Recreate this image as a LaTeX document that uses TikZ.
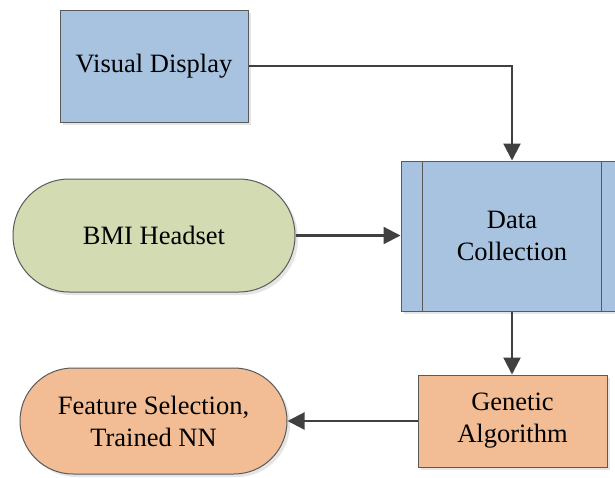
\documentclass[tikz,border=0pt]{standalone}
\usepackage{fontspec}
\setmainfont{Liberation Serif}
\usetikzlibrary{arrows.meta,calc,shadows}
\definecolor{boxblue}{HTML}{A7C3DF}
\definecolor{boxgreen}{HTML}{D3DBB3}
\definecolor{boxorange}{HTML}{F2BD95}
\definecolor{edgegray}{HTML}{5A5A5A}
\definecolor{arrowgray}{HTML}{404040}
\tikzset{
  block/.style={draw=edgegray, line width=1pt, align=center, font=\fontsize{26.5}{32}\selectfont,
    inner sep=0pt, drop shadow={shadow xshift=3pt, shadow yshift=-3pt, fill=black!10, opacity=1}},
  procbox/.style={block, rectangle},
  terminal/.style={block, rectangle, rounded corners=#1},
  flow/.style={draw=arrowgray, line width=2.2pt, -{Triangle[length=17pt,width=17pt]}}
}
\begin{document}
\begin{tikzpicture}[x=1pt,y=-1pt]
\useasboundingbox (0,0) rectangle (615,477);
\clip (0,0) rectangle (615,477);
\fill[white] (0,0) rectangle (615,477);

% process blocks
\node[procbox, fill=boxblue, minimum width=188pt, minimum height=112pt] (vd) at (154,66) {Visual Display};
\node[procbox, fill=boxblue, minimum width=222pt, minimum height=150pt] (dc) at (512,236) {Data\\Collection};
\draw[edgegray, line width=1pt] ($(dc.north west)+(22,0)$) -- ($(dc.south west)+(22,0)$);
\draw[edgegray, line width=1pt] ($(dc.north east)+(-22,0)$) -- ($(dc.south east)+(-22,0)$);
\node[procbox, fill=boxorange, minimum width=189pt, minimum height=92pt] (ga) at (512.5,421) {Genetic\\Algorithm};

% terminal blocks
\node[terminal=56pt, fill=boxgreen, minimum width=282pt, minimum height=113pt] (bmi) at (154,235.5) {BMI Headset};
\node[terminal=53pt, fill=boxorange, minimum width=267pt, minimum height=106pt] (fs) at (153.5,421) {Feature Selection,\\Trained NN};

% connectors
\draw[flow] (vd.east) -| (dc.north);
\draw[flow] (bmi.east) -- (bmi.east -| dc.west);
\draw[flow] (dc.south) -- (dc.south |- ga.north);
\draw[flow] (ga.west) -- (ga.west -| fs.east);
\end{tikzpicture}
\end{document}
